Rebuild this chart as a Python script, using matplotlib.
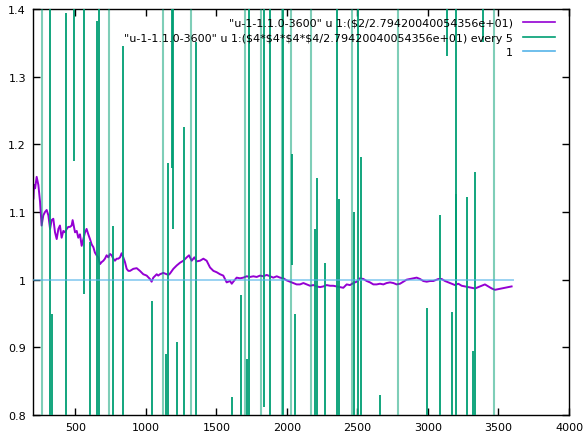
import matplotlib
matplotlib.use('Agg')
import matplotlib.pyplot as plt
from matplotlib.lines import Line2D

# ---------------- data ----------------
purple_x = [203, 207, 215, 226, 238, 250, 261, 273, 285, 297, 309, 321, 332, 344, 356, 368,
            380, 391, 403, 415, 427, 439, 450, 462, 474, 481, 498, 510, 521, 533, 545, 557,
            569, 580, 592, 604, 616, 628, 639, 651, 663, 675, 687, 699, 710, 722, 734, 746,
            758, 769, 781, 793, 805, 817, 828, 840, 852, 864, 876, 888, 911, 935, 958, 982,
            1006, 1029, 1041, 1053, 1077, 1088, 1100, 1124, 1148, 1160, 1171, 1195, 1219,
            1242, 1266, 1290, 1306, 1325, 1344, 1360, 1384, 1408, 1431, 1455, 1479, 1502,
            1526, 1549, 1573, 1597, 1609, 1620, 1644, 1668, 1691, 1715, 1739, 1762, 1786,
            1809, 1833, 1857, 1880, 1904, 1928, 1951, 1975, 1998, 2022, 2046, 2069, 2093,
            2117, 2140, 2164, 2188, 2211, 2235, 2258, 2282, 2306, 2329, 2353, 2377, 2400,
            2424, 2447, 2471, 2495, 2518, 2542, 2566, 2589, 2613, 2636, 2660, 2684, 2707,
            2731, 2755, 2778, 2802, 2826, 2849, 2873, 2896, 2920, 2944, 2967, 2991, 3015,
            3038, 3062, 3074, 3097, 3121, 3145, 3168, 3192, 3215, 3239, 3263, 3286, 3310,
            3334, 3357, 3381, 3404, 3428, 3452, 3475, 3499, 3523, 3546, 3570, 3593]
purple_y = [1.120, 1.140, 1.135, 1.152, 1.140, 1.115, 1.080, 1.095, 1.100, 1.103, 1.095, 1.075,
            1.088, 1.090, 1.070, 1.060, 1.075, 1.080, 1.062, 1.072, 1.070, 1.075, 1.078, 1.078,
            1.080, 1.088, 1.070, 1.072, 1.062, 1.067, 1.050, 1.060, 1.070, 1.075, 1.067, 1.060,
            1.052, 1.048, 1.040, 1.036, 1.033, 1.023, 1.026, 1.028, 1.031, 1.036, 1.033, 1.038,
            1.036, 1.031, 1.028, 1.031, 1.031, 1.033, 1.039, 1.033, 1.026, 1.016, 1.013, 1.013,
            1.016, 1.017, 1.013, 1.008, 1.006, 1.001, 0.997, 1.003, 1.008, 1.006, 1.008, 1.010,
            1.008, 1.007, 1.009, 1.016, 1.021, 1.025, 1.028, 1.033, 1.036, 1.028, 1.033, 1.027,
            1.028, 1.031, 1.028, 1.018, 1.013, 1.011, 1.008, 1.006, 0.996, 0.998, 0.994, 0.997,
            1.003, 1.002, 1.003, 1.005, 1.004, 1.005, 1.004, 1.006, 1.005, 1.007, 1.005, 1.003,
            1.005, 1.003, 1.002, 0.999, 0.997, 0.995, 0.993, 0.993, 0.995, 0.993, 0.991, 0.992,
            0.990, 0.989, 0.990, 0.992, 0.991, 0.991, 0.990, 0.989, 0.988, 0.993, 0.992, 0.995,
            0.997, 1.002, 1.001, 0.998, 0.996, 0.993, 0.993, 0.994, 0.993, 0.995, 0.996, 0.995,
            0.993, 0.994, 0.997, 1.000, 1.001, 1.002, 1.003, 1.001, 0.998, 0.997, 0.998, 0.998,
            1.000, 1.001, 1.001, 0.998, 0.996, 0.994, 0.992, 0.994, 0.991, 0.990, 0.989, 0.988,
            0.987, 0.989, 0.991, 0.993, 0.990, 0.987, 0.985, 0.986, 0.987, 0.988, 0.989, 0.990]

# green "every 5" series: each near-vertical stroke, from value -> to value
# (0.0 and 3.0 stand for values far outside the visible range)
green_x = [266, 322, 335, 437, 490, 562, 606, 656, 670, 739, 767, 840, 1041, 1124, 1145,
           1157, 1184, 1191, 1223, 1271, 1320, 1356, 1609, 1675, 1703, 1720, 1731, 1817,
           1836, 1880, 1963, 1975, 2030, 2036, 2058, 2173, 2200, 2211, 2270, 2355, 2372,
           2460, 2474, 2506, 2522, 2660, 2786, 2991, 3083, 3133, 3168, 3197, 3199, 3277,
           3322, 3334, 3388, 3468]
green_from = [0.0, 0.0, 0.0, 0.0, 1.176, 0.979, 0.0, 0.0, 0.0, 0.0, 0.0, 0.0, 0.0, 0.0, 0.0,
              0.0, 1.165, 1.075, 0.0, 0.0, 0.0, 0.0, 0.0, 0.0, 0.0, 0.0, 0.0, 0.0,
              0.812, 0.0, 0.0, 0.0, 0.0, 1.021, 0.0, 0.0, 0.0, 0.0, 0.0, 0.0, 0.0,
              0.0, 0.0, 0.0, 0.0, 0.0, 0.0, 0.0, 0.0, 1.331, 0.0, 0.984, 0.0, 0.0,
              0.0, 0.0, 1.351, 0.0]
green_to = [3.0, 3.0, 0.950, 1.394, 3.0, 3.0, 1.055, 1.383, 3.0, 3.0, 1.080, 1.346, 0.969, 3.0, 0.890,
            1.172, 3.0, 3.0, 0.908, 1.225, 3.0, 1.351, 0.826, 0.978, 3.0, 0.883, 3.0, 3.0,
            3.0, 3.0, 3.0, 3.0, 3.0, 1.186, 0.949, 3.0, 1.075, 1.150, 1.025, 3.0, 1.119,
            3.0, 1.100, 3.0, 1.181, 0.830, 3.0, 0.958, 1.095, 3.0, 0.952, 3.0, 1.127, 1.122,
            0.895, 1.159, 3.0, 3.0]

one_x = [200, 3600]
one_y = [1.0, 1.0]

x_ticks = [500, 1000, 1500, 2000, 2500, 3000, 3500, 4000]
y_ticks = [0.8, 0.9, 1.0, 1.1, 1.2, 1.3, 1.4]
y_tick_labels = ['0.8', '0.9', '1', '1.1', '1.2', '1.3', '1.4']

labels = [r'"u-1-1.1.0-3600" u 1:(\$2/2.79420040054356e+01)',
          r'"u-1-1.1.0-3600" u 1:(\$4*\$4*\$4*\$4/2.79420040054356e+01) every 5',
          '1']

# ---------------- styles ----------------
C_PURPLE = '#9400d3'
C_GREEN = '#009e73'
C_BLUE = '#56b4e9'
light_strokes = {266, 739, 1124, 1320, 1703, 1817, 1963, 2030, 2173, 2460, 2786, 3468}

plt.rcParams['font.family'] = ['DejaVu Sans']
fig = plt.figure(figsize=(5.84, 4.35), dpi=100)
ax = fig.add_axes([33/584, 19/435, 536/584, 406/435])

ax.plot(purple_x, purple_y, color=C_PURPLE, lw=1.4, zorder=2)

dark_idx = [i for i, x in enumerate(green_x) if x not in light_strokes]
light_idx = [i for i, x in enumerate(green_x) if x in light_strokes]
ax.vlines([green_x[i] for i in dark_idx], [green_from[i] for i in dark_idx],
          [green_to[i] for i in dark_idx], colors=C_GREEN, lw=1.3, zorder=3)
ax.vlines([green_x[i] for i in light_idx], [green_from[i] for i in light_idx],
          [green_to[i] for i in light_idx], colors=C_GREEN, lw=1.5, alpha=0.5, zorder=3)

ax.plot(one_x, one_y, color=C_BLUE, lw=1.4, alpha=0.6, zorder=4)

ax.set_xlim(200, 4000)
ax.set_ylim(0.8, 1.4)
ax.set_xticks(x_ticks)
ax.set_xticklabels([str(t) for t in x_ticks])
ax.set_yticks(y_ticks)
ax.set_yticklabels(y_tick_labels)
ax.tick_params(direction='in', length=5, width=1, top=True, right=True,
               labelsize=8, pad=5, colors='black')
for s in ax.spines.values():
    s.set_linewidth(1.0)
    s.set_color('black')

handles = [Line2D([], [], color=C_PURPLE, lw=1.2),
           Line2D([], [], color=C_GREEN, lw=1.2),
           Line2D([], [], color=C_BLUE, lw=1.2)]
leg = ax.legend(handles, labels, loc='upper right', bbox_to_anchor=(0.974, 0.978),
                frameon=False, markerfirst=False, handlelength=2.9, handletextpad=0.9,
                labelspacing=0.42, fontsize=8, borderaxespad=0, borderpad=0)
try:
    for col in leg._legend_handle_box.get_children():
        col.align = 'right'
except Exception:
    pass

fig.savefig('out.png', dpi=100)
